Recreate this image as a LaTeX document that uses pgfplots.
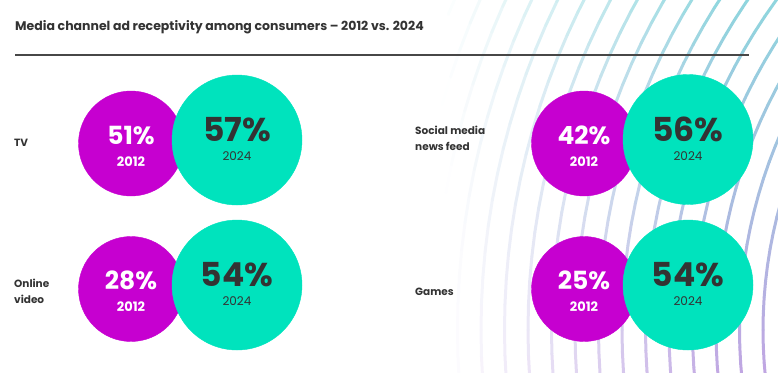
\documentclass[border=0pt]{standalone}
\usepackage{fontspec}
\setmainfont{Poppins}
\usepackage{pgfplots}
\usepackage{pgfplotstable}
\pgfplotsset{compat=1.18}
\definecolor{mag}{HTML}{C600D0}
\definecolor{teal2}{HTML}{00E3BD}
\definecolor{txt}{HTML}{333333}
\definecolor{arcT}{HTML}{8FD6DE}
\definecolor{arcB}{HTML}{C0A6E2}
\pgfplotstableread{
x y v
131 143.5 51
131 289 28
584 143.5 42
584 289 25
}\old
\pgfplotstableread{
x y v
237 140 57
237 285 54
688 139.5 56
688 285 54
}\new
\begin{document}
\begin{tikzpicture}
\useasboundingbox (0,0) rectangle (778pt,-372pt);
\begin{scope}[x=1pt,y=-1pt]
\clip (0,0) rectangle (778,372);
\foreach \R in {467,490.5,...,920} {
  \foreach \a in {-8,-6,...,62} {
    \pgfmathsetmacro{\xa}{1230-\R*cos(\a)}
    \pgfmathsetmacro{\ya}{330-\R*sin(\a)}
    \pgfmathsetmacro{\xb}{1230-\R*cos(\a+2)}
    \pgfmathsetmacro{\yb}{330-\R*sin(\a+2)}
    \pgfmathsetmacro{\xm}{(\xa+\xb)/2}
    \pgfmathsetmacro{\ym}{(\ya+\yb)/2}
    \pgfmathsetmacro{\w}{max(0,min(100,(\xm-445)/2.8))}
    \pgfmathsetmacro{\t}{max(0,min(100,\ym/3.72))}
    \colorlet{base}{arcB!\t!arcT}
    \draw[line width=3pt, line cap=round, color=base!\w!white] (\xa,\ya) -- (\xb,\yb);
  }
}
\end{scope}
\begin{axis}[at={(0,0)}, anchor=north west, scale only axis, width=778pt, height=372pt,
  xmin=0, xmax=778, ymin=0, ymax=372, y dir=reverse, hide axis, clip=false,
  point meta=explicit symbolic]
\addplot[color=mag, only marks, mark=*, mark size=52.5pt, mark options={draw=mag, fill=mag},
  nodes near coords={{\fontsize{25}{25}\selectfont\bfseries\pgfplotspointmeta\%}\\{\bfseries 2012}},
  every node near coord/.append style={text=white, align=center, anchor=center, inner sep=0pt,
    font=\fontsize{13}{22}\selectfont, yshift=-2.5pt}]
  table[x=x, y=y, meta=v] {\old};
\addplot[color=teal2, only marks, mark=*, mark size=65pt, mark options={draw=teal2, fill=teal2},
  nodes near coords={{\fontsize{33}{33}\selectfont\bfseries\pgfplotspointmeta\%}\\{2024}},
  every node near coord/.append style={text=txt, align=center, anchor=center, inner sep=0pt,
    font=\fontsize{12}{19}\selectfont, yshift=1pt}]
  table[x=x, y=y, meta=v] {\new};
\end{axis}
\begin{scope}[x=1pt,y=-1pt]
\node[anchor=west, inner sep=0pt, text=txt, font=\fontsize{12.5}{14}\selectfont\bfseries] at (15,27) {Media channel ad receptivity among consumers -- 2012 vs. 2024};
\draw[line width=2pt, color=txt!90!white] (15,55) -- (749,55);
\node[anchor=west, inner sep=0pt, text=txt, font=\fontsize{10.5}{16}\selectfont\bfseries] at (14,143) {TV};
\node[anchor=west, inner sep=0pt, text=txt, align=left, font=\fontsize{10.5}{16}\selectfont\bfseries] at (14,291) {Online\\video};
\node[anchor=west, inner sep=0pt, text=txt, align=left, font=\fontsize{10.5}{16}\selectfont\bfseries] at (415,138) {Social media\\news feed};
\node[anchor=west, inner sep=0pt, text=txt, font=\fontsize{10.5}{16}\selectfont\bfseries] at (415,292) {Games};
\end{scope}
\end{tikzpicture}
\end{document}
